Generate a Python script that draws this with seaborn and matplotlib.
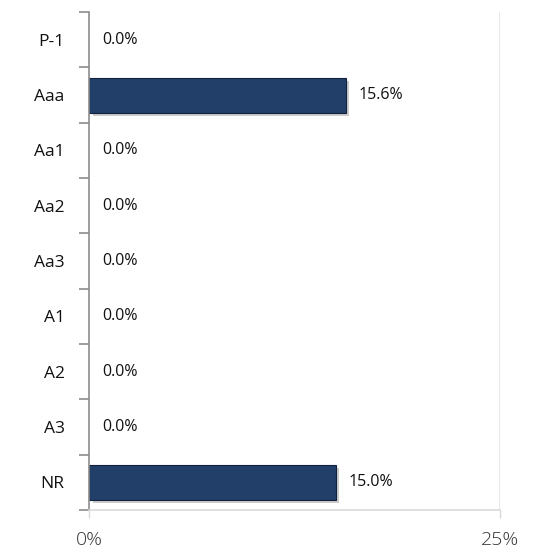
import numpy as np
import matplotlib
matplotlib.use("Agg")
import matplotlib.pyplot as plt
import matplotlib.patheffects as pe
import seaborn as sns
import pandas as pd

# ratings and their share
ratings = ["P-1", "Aaa", "Aa1", "Aa2", "Aa3", "A1", "A2", "A3", "NR"]
shares = [0.0, 15.6, 0.0, 0.0, 0.0, 0.0, 0.0, 0.0, 15.0]
xticks = [0, 25]
xticklabels = ["0%", "25%"]

df = pd.DataFrame({"rating": ratings, "share": shares})

sns.set_style("white")
plt.rcParams["font.family"] = ["Open Sans", "DejaVu Sans"]

fig = plt.figure(figsize=(5.43, 5.53), dpi=100)
ax = fig.add_axes([0.164, 0.078, 0.757, 0.900])

sns.barplot(data=df, x="share", y="rating", order=ratings, orient="h",
            color="#223f69", width=0.63, saturation=1, ax=ax)

# bevel-ish look: darker edge plus soft shadow (only on real bars)
for bar, v in zip(ax.patches, shares):
    if v == 0:
        bar.set_visible(False)
        continue
    bar.set_edgecolor("#10223d")
    bar.set_linewidth(0.8)
    bar.set_path_effects([pe.SimplePatchShadow(offset=(2.5, -2.5), shadow_rgbFace="#9a9a9a", alpha=0.5),
                          pe.Normal()])

# value labels
for i, v in enumerate(shares):
    ax.annotate(f"{v:.1f}%", xy=(v, i), xytext=(9.5, 0), textcoords="offset points",
                va="center", ha="left", fontsize=11.5, color="#111111")

ax.set_xlim(0, 25)
ax.set_ylim(len(ratings) - 0.5, -0.5)
ax.set_xticks(xticks)
ax.set_xticklabels(xticklabels, fontsize=14, color="#333333")
for lab in ax.get_xticklabels():
    lab.set_fontweight("light")
ax.tick_params(axis="x", bottom=True, length=6, color="#d9d9d9", width=1, pad=9)

# y labels at centres, tick marks at boundaries
ax.set_yticks(range(len(ratings)))
ax.set_yticklabels(ratings, fontsize=12.5, color="#111111")
ax.tick_params(axis="y", which="major", left=False, pad=14)
ax.set_yticks(np.arange(-0.5, len(ratings), 1), minor=True)
ax.tick_params(axis="y", which="minor", left=True, length=7, color="#8c8c8c", width=1.2, direction="out")

ax.set_xlabel("")
ax.set_ylabel("")
ax.axvline(25, color="#e3e3e3", lw=1.2, zorder=0)

for s in ["top", "right"]:
    ax.spines[s].set_visible(False)
ax.spines["left"].set_color("#8c8c8c")
ax.spines["left"].set_linewidth(1.2)
ax.spines["bottom"].set_color("#d9d9d9")
ax.spines["bottom"].set_linewidth(1.2)

fig.savefig("out.png", dpi=100)
